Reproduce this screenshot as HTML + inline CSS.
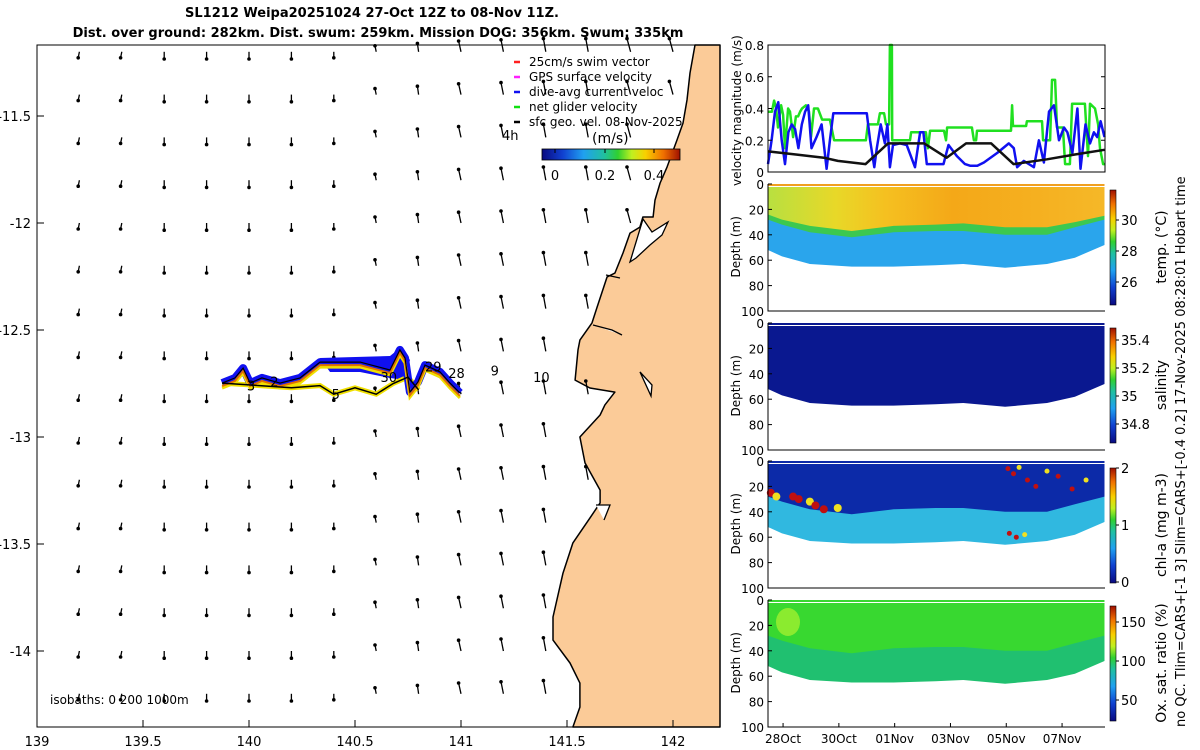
<!DOCTYPE html>
<html><head><meta charset="utf-8"><style>
body{margin:0;background:#fff;}
svg{display:block;font-family:"DejaVu Sans","Liberation Sans",sans-serif;}
</style></head><body>
<svg id="fig" width="1200" height="750" viewBox="0 0 1200 750" xmlns="http://www.w3.org/2000/svg">
<defs>
<linearGradient id="cmapV" x1="0" y1="1" x2="0" y2="0">
<stop offset="0" stop-color="#0a0a80"/><stop offset=".15" stop-color="#1040d0"/><stop offset=".3" stop-color="#20a0f0"/><stop offset=".45" stop-color="#20c0a0"/><stop offset=".55" stop-color="#30d030"/><stop offset=".65" stop-color="#c0f020"/><stop offset=".75" stop-color="#f8d000"/><stop offset=".88" stop-color="#f07000"/><stop offset="1" stop-color="#a01000"/></linearGradient>
<linearGradient id="cmapH" x1="0" y1="0" x2="1" y2="0">
<stop offset="0" stop-color="#0a0a80"/><stop offset=".15" stop-color="#1040d0"/><stop offset=".3" stop-color="#20a0f0"/><stop offset=".45" stop-color="#20c0a0"/><stop offset=".55" stop-color="#30d030"/><stop offset=".65" stop-color="#c0f020"/><stop offset=".75" stop-color="#f8d000"/><stop offset=".88" stop-color="#f07000"/><stop offset="1" stop-color="#a01000"/></linearGradient>
<linearGradient id="tempTop" x1="0" y1="0" x2="1" y2="0">
<stop offset="0" stop-color="#b8e040"/><stop offset=".2" stop-color="#e8d828"/><stop offset=".35" stop-color="#f5c020"/><stop offset=".55" stop-color="#f4a818"/><stop offset=".8" stop-color="#f5b020"/><stop offset="1" stop-color="#f5b828"/></linearGradient>
</defs>

<text x="372" y="17" text-anchor="middle" font-size="13" font-weight="bold">SL1212 Weipa20251024 27-Oct 12Z to 08-Nov 11Z.</text>
<text x="378" y="37" text-anchor="middle" font-size="13" font-weight="bold">Dist. over ground: 282km. Dist. swum: 259km. Mission DOG: 356km. Swum: 335km</text>

<g id="map"></g>
<g id="right"></g>

<text transform="translate(1185,727) rotate(-90)" font-size="13">no QC. Tlim=CARS+[-1 3] Slim=CARS+[-0.4 0.2] 17-Nov-2025 08:28:01 Hobart time</text>
</svg>
<script>
// ===== map data =====
const coastLon=[142.104,142.080,142.066,142.047,142.019,141.972,141.939,141.915,141.906,141.858,141.844,141.797,141.764,141.726,141.689,141.642,141.618,141.561,141.552,141.538,141.608,141.726,141.679,141.656,141.561,141.585,141.656,141.656,141.608,141.528,141.481,141.434,141.434,141.514,141.561,141.561,141.528];
const coastLat=[-11.168,-11.299,-11.425,-11.533,-11.612,-11.738,-11.813,-11.893,-11.972,-11.972,-12.019,-12.047,-12.140,-12.234,-12.252,-12.393,-12.467,-12.547,-12.593,-12.734,-12.771,-12.790,-12.850,-12.897,-13.000,-13.121,-13.248,-13.308,-13.379,-13.495,-13.636,-13.841,-13.949,-14.056,-14.150,-14.262,-14.355];
const vecLons=[139.2,139.4,139.6,139.8,140,140.2,140.4,140.6,140.8,141,141.2,141.4,141.6,141.8,142];
const vecLats=[-11.2,-11.4,-11.6,-11.8,-12,-12.2,-12.4,-12.6,-12.8,-13,-13.2,-13.4,-13.6,-13.8,-14,-14.2];
const vecV=[-0.05,-0.05,-0.06,-0.06,-0.06,-0.06,-0.05,0.05,0.07,0.09,0.1,0.11,0.11,0.11,0.11];
const vecU=[-0.01,-0.01,0,0,0,0,0,-0.01,-0.01,-0.02,-0.02,-0.02,-0.02,-0.03,-0.03];
const trackLon=[139.873,139.934,139.972,140.005,140.061,140.146,140.241,140.335,140.524,140.665,140.712,140.736,140.759,140.797,140.83,140.901,140.948,140.995];
const trackLat=[-12.748,-12.724,-12.678,-12.748,-12.724,-12.748,-12.724,-12.65,-12.65,-12.687,-12.593,-12.631,-12.79,-12.743,-12.664,-12.696,-12.748,-12.794];
const track2Lon=[139.873,140.05,140.2,140.335,140.4,140.5,140.6,140.68,140.75,140.8];
const track2Lat=[-12.748,-12.76,-12.77,-12.76,-12.8,-12.77,-12.8,-12.75,-12.72,-12.78];
const dayLabels=["3","2","5","30","29","28","9","10"];
const dayLon=[139.99,140.1,140.39,140.62,140.83,140.94,141.14,141.34];
const dayLat=[-12.76,-12.74,-12.8,-12.72,-12.67,-12.7,-12.69,-12.72];

// ===== time series data =====
const greenT=[0,.14,.22,.29,.36,.47,.54,.61,.72,.79,.9,1,1.08,1.15,1.22,1.36,1.47,1.54,1.65,1.79,1.94,2.22,2.37,3.51,3.58,3.94,4.01,4.16,4.23,4.34,4.37,4.44,4.45,5.09,5.13,5.66,5.73,5.81,6.31,6.38,6.42,7.31,7.38,7.46,7.49,8.71,8.75,8.78,9.25,9.28,9.82,9.86,10.11,10.18,10.29,10.36,10.57,10.65,10.82,10.9,11.36,11.47,11.54,11.72,11.83,11.9,12.01,12.08];
const greenV=[.38,.38,.45,.40,.28,.42,.36,.15,.40,.38,.22,.35,.35,.38,.40,.42,.38,.22,.40,.40,.33,.33,.2,.2,.3,.3,.37,.37,.3,.3,.8,.8,.2,.2,.25,.25,.15,.26,.26,.2,.28,.28,.2,.2,.26,.26,.42,.29,.29,.32,.32,.2,.2,.58,.58,.28,.28,.05,.05,.43,.43,.1,.43,.4,.3,.15,.05,.05];
const blueT=[0,.13,.25,.37,.49,.61,.73,.85,.97,1.09,1.21,1.33,1.44,1.56,1.74,1.92,2.1,2.22,2.34,3.54,3.66,3.81,3.9,4.04,4.19,4.28,4.37,4.48,4.73,4.97,5.27,5.45,5.57,5.69,5.81,6.05,6.29,6.47,6.77,7.06,7.24,7.5,7.74,8.22,8.63,8.81,8.93,9.17,9.53,9.71,9.89,10.07,10.25,10.43,10.61,10.73,10.91,11.09,11.2,11.38,11.54,11.68,11.8,11.92,12.06];
const blueV=[.05,.2,.38,.44,.2,.05,.25,.3,.27,.15,.3,.38,.42,.15,.22,.3,.02,.2,.37,.37,.2,.03,.15,.3,.18,.3,.03,.17,.18,.17,.03,.25,.25,.05,.05,.05,.05,.17,.1,.05,.04,.04,.06,.12,.18,.15,.03,.07,.03,.2,.06,.38,.42,.2,.28,.25,.12,.4,.02,.3,.18,.25,.22,.32,.22];
const blackT=[0,1,2,2.5,3.5,4.3,5.6,6.4,7.1,8,8.8,10,11,12.06];
const blackV=[.13,.11,.09,.07,.05,.18,.18,.09,.18,.18,.05,.08,.11,.14];
const velTicks=[0,0.2,0.4,0.6,0.8];
const dateLabels=["28Oct","30Oct","01Nov","03Nov","05Nov","07Nov"];
const dateT=[0.54,2.54,4.54,6.54,8.54,10.54];
const depthTicks=[0,20,40,60,80,100];
const secT=[0,0.5,1.5,3,4.5,6,7,8.5,10,11,12.06];
const bottomD=[52,57,63,65,65,64,63,66,63,58,48];
const thermoD=[28,32,38,42,38,37,37,40,40,34,28];
const mixD=[24,28,33,37,33,32,31,34,34,30,25];
const tempTicks=[26,28,30], tempTickY=[282,251,220];
const salTicks=[34.8,35,35.2,35.4], salTickY=[424,396,368,340];
const chlTicks=[0,1,2], chlTickY=[582,525,468];
const oxTicks=[50,100,150], oxTickY=[700,661,622];
const chlBlobT=[0.1,0.3,0.9,1.1,1.5,1.7,2.0,2.5,8.6,8.8,9.0,9.3,9.6,10.0,10.4,10.9,11.4,8.65,8.9,9.2];
const chlBlobD=[25,28,28,30,32,35,38,37,6,10,5,15,20,8,12,22,15,57,60,58];

const NS="http://www.w3.org/2000/svg";
function el(tag,attrs,parent){const e=document.createElementNS(NS,tag);for(const k in attrs)e.setAttribute(k,attrs[k]);parent.appendChild(e);return e;}
const map=document.getElementById('map'), right=document.getElementById('right');
const mx=lon=>249+(lon-140)*212, my=lat=>116-(lat+11.5)*214;

let land="M720,45 ";
for(let i=0;i<coastLon.length;i++) land+="L"+mx(coastLon[i]).toFixed(1)+","+my(coastLat[i]).toFixed(1)+" ";
land+="L720,727 Z";
const landEl=el('path',{d:land,fill:'#fbcb98',stroke:'#000','stroke-width':1.5,'stroke-linejoin':'round'},map);


// inlets
const inl=el('path',{d:"M643,219 L652,232 L668,222 L662,235 L650,245 L636,258 L630,262 Z M606,275 L620,278 M593,325 L612,330 L622,335 M640,372 L652,385 L651,396 Z M596,505 L610,505 L604,520",fill:'#fff',stroke:'#000','stroke-width':1.3},map);


function coastX(y){for(let i=0;i<coastLat.length-1;i++){const y0=my(coastLat[i]),y1=my(coastLat[i+1]);if(y>=Math.min(y0,y1)&&y<=Math.max(y0,y1)&&y1!==y0){return mx(coastLon[i])+(mx(coastLon[i+1])-mx(coastLon[i]))*(y-y0)/(y1-y0);}}return 720;}

vecLats.forEach(lat=>{vecLons.forEach((lon,ci)=>{
  const x=mx(lon),y=my(lat);
  if(x>coastX(y)-6)return;
  const dx=vecU[ci]*120, dy=-vecV[ci]*120;
  const g=el('g',{},map);
  
  
  el('line',{x1:x,y1:y,x2:x+dx,y2:y+dy,stroke:'#000','stroke-width':1.3},g);
  el('circle',{cx:x+dx,cy:y+dy,r:1.8,fill:'#000'},g);
});});

function tp(L,A){return L.map((l,i)=>mx(l).toFixed(1)+","+my(A[i]).toFixed(1)).join(" ");}
const blob=el('polygon',{points:"320,358 390,356 400,348 410,360 405,380 390,378 360,372 330,372",fill:'#1010f0'},map);


const ty2=el('polyline',{points:tp(track2Lon,track2Lat),fill:'none',stroke:'#f0e000','stroke-width':5},map);


const tb=el('polyline',{points:tp(trackLon,trackLat),fill:'none',stroke:'#1010f0','stroke-width':8,'stroke-linejoin':'round'},map);


const ty=el('polyline',{points:tp(trackLon,trackLat),fill:'none',stroke:'#f0e000','stroke-width':3,transform:'translate(0,5)'},map);


const to=el('polyline',{points:tp(trackLon,trackLat),fill:'none',stroke:'#e07000','stroke-width':2,transform:'translate(0,3)'},map);


const tk=el('polyline',{points:tp(track2Lon,track2Lat),fill:'none',stroke:'#000','stroke-width':1.5},map);


const tk2=el('polyline',{points:tp(trackLon,trackLat),fill:'none',stroke:'#000','stroke-width':1.2},map);


dayLabels.forEach((s,i)=>{const t=el('text',{x:mx(dayLon[i]),y:my(dayLat[i])+5,'font-size':13},map);t.textContent=s;
  
  });

el('rect',{x:37,y:45,width:683,height:682,fill:'none',stroke:'#000','stroke-width':1},map);
[139,139.5,140,140.5,141,141.5,142].forEach(v=>{const x=mx(v);el('line',{x1:x,y1:727,x2:x,y2:720,stroke:'#000'},map);
  const t=el('text',{x:x,y:746,'text-anchor':'middle','font-size':13},map);t.textContent=String(v);
  
  });
[-11.5,-12,-12.5,-13,-13.5,-14].forEach(v=>{const y=my(v);el('line',{x1:37,y1:y,x2:44,y2:y,stroke:'#000'},map);
  const t=el('text',{x:31,y:y+5,'text-anchor':'end','font-size':13},map);t.textContent=String(v);
  
  });

const legC=['#ff2020','#ff20ff','#1010f0','#10e010','#000'];
const legT=['25cm/s swim vector','GPS surface velocity','dive-avg current veloc','net glider velocity','sfc geo. vel. 08-Nov-2025'];
legT.forEach((s,i)=>{const y=66+i*15;
  const g=el('g',{},map);
  
  
  el('line',{x1:514,y1:y-4,x2:520,y2:y-4,stroke:legC[i],'stroke-width':2.5},g);
  const t=el('text',{x:529,y:y,'font-size':12},g);t.textContent=s;});
let t4=el('text',{x:502,y:140,'font-size':13},map);t4.textContent="4h";


let tu=el('text',{x:592,y:143,'font-size':14},map);tu.textContent="(m/s)";


const mcb=el('rect',{x:542,y:149,width:138,height:11,fill:'url(#cmapH)',stroke:'#000','stroke-width':.8},map);


[[0,555],[0.2,605],[0.4,654]].forEach(([v,x])=>{el('line',{x1:x,y1:149,x2:x,y2:153,stroke:'#000'},map);
  const t=el('text',{x:x,y:180,'text-anchor':'middle','font-size':13},map);t.textContent=String(v);
  
  });
let iso=el('text',{x:50,y:704,'font-size':12},map);iso.textContent="isobaths: 0    200   1000m";



// ===== right panels =====
const X0=768,X1=1105;
const tx=t=>X0+t*27.9;
const VT=45,VB=172;
const vy=v=>VB-(v/0.8)*(VB-VT);
function line(T,V,col,w,name){const pts=T.map((t,i)=>tx(t).toFixed(1)+","+vy(V[i]).toFixed(1)).join(" ");
  const p=el('polyline',{points:pts,fill:'none',stroke:col,'stroke-width':w,'stroke-linejoin':'round'},right);
  
  }
line(greenT,greenV,'#20e020',2.5,'net-glider-velocity-line');
line(blueT,blueV,'#1010f0',2.5,'dive-avg-current-line');
line(blackT,blackV,'#111',2.5,'sfc-geostrophic-line');
el('rect',{x:X0,y:VT,width:X1-X0,height:VB-VT,fill:'none',stroke:'#000'},right);
velTicks.forEach(v=>{const y=vy(v);el('line',{x1:X0,y1:y,x2:X0+4,y2:y,stroke:'#000'},right);el('line',{x1:X1,y1:y,x2:X1-4,y2:y,stroke:'#000'},right);
  const t=el('text',{x:764,y:y+5,'text-anchor':'end','font-size':12},right);t.textContent=String(v);
  
  });
let vl=el('text',{transform:'translate(741,186) rotate(-90)','font-size':12},right);vl.textContent="velocity magnitude (m/s)";



const tops=[184,323,461,600], H=127;
function dpath(top,D){let s="";secT.forEach((t,i)=>{s+=(i?"L":"M")+tx(t).toFixed(1)+","+(top+D[i]*H/100).toFixed(1)+" ";});return s;}
function rdpath(top,D){let s="";for(let i=secT.length-1;i>=0;i--)s+="L"+tx(secT[i]).toFixed(1)+","+(top+D[i]*H/100).toFixed(1)+" ";return s;}
function fillBetween(top,Da,Db,fill,name){
  const p=el('path',{d:dpath(top,Da)+rdpath(top,Db)+"Z",fill:fill},right);
  
  }
const zero=secT.map(()=>0);
const surf=secT.map(()=>2);
fillBetween(tops[0],zero,bottomD,'#2aa5ec','temp-section-deep');
fillBetween(tops[0],zero,thermoD,'#3cc850','temp-section-thermocline');
fillBetween(tops[0],zero,mixD,'url(#tempTop)','temp-section-mixed-layer');
fillBetween(tops[0],zero,surf,'#f0a020','temp-section-surface');
fillBetween(tops[1],zero,bottomD,'#0a1890','salinity-section');
fillBetween(tops[2],zero,bottomD,'#30b8e0','chl-section-deep');
fillBetween(tops[2],zero,thermoD,'#0c2aa8','chl-section-surface');
fillBetween(tops[3],zero,bottomD,'#20c070','oxygen-section-deep');
fillBetween(tops[3],zero,thermoD,'#38d830','oxygen-section-surface');
let ob=el('ellipse',{cx:788,cy:622,rx:12,ry:14,fill:'#a0f030',opacity:.8},right);


chlBlobT.forEach((t,i)=>{const c=el('circle',{cx:tx(t),cy:tops[2]+chlBlobD[i]*H/100,r:i<8?4:2.5,fill:i%3==1?'#f0e020':'#c01010'},right);
  
  });
tops.forEach((top,k)=>{
  el('line',{x1:X0,y1:top+2.5,x2:X1,y2:top+2.5,stroke:'#fff','stroke-width':1},right);
  el('polyline',{points:`${X0},${top} ${X0},${top+H} ${X1},${top+H}`,fill:'none',stroke:'#000'},right);
  depthTicks.forEach(d=>{const y=top+d*H/100;el('line',{x1:X0,y1:y,x2:X0+4,y2:y,stroke:'#000'},right);
    const t=el('text',{x:764,y:y+5,'text-anchor':'end','font-size':12},right);t.textContent=String(d);
    
    });
  const yl=el('text',{transform:`translate(740,${top+H/2+30}) rotate(-90)`,'font-size':12},right);yl.textContent="Depth (m)";
  
  
});
dateLabels.forEach((s,i)=>{const x=tx(dateT[i]);el('line',{x1:x,y1:727,x2:x,y2:723,stroke:'#000'},right);
  const t=el('text',{x:x,y:743,'text-anchor':'middle','font-size':12},right);t.textContent=s;
  
  });

const cbs=[[190,tempTicks,tempTickY,'temp. (°C)'],[328,salTicks,salTickY,'salinity'],[468,chlTicks,chlTickY,'chl-a (mg m-3)'],[606,oxTicks,oxTickY,'Ox. sat. ratio (%)']];
cbs.forEach(([y0,ticks,ty_,lab])=>{
  const r=el('rect',{x:1110,y:y0,width:6,height:115,fill:'url(#cmapV)',stroke:'#000','stroke-width':.6},right);
  
  
  ticks.forEach((v,i)=>{el('line',{x1:1116,y1:ty_[i],x2:1119,y2:ty_[i],stroke:'#000'},right);
    const t=el('text',{x:1121,y:ty_[i]+5,'font-size':13},right);t.textContent=String(v);
    
    });
  const l=el('text',{transform:`translate(1166,${y0+57}) rotate(-90)`,'text-anchor':'middle','font-size':14},right);l.textContent=lab;
  
  
});
</script>
</body></html>
